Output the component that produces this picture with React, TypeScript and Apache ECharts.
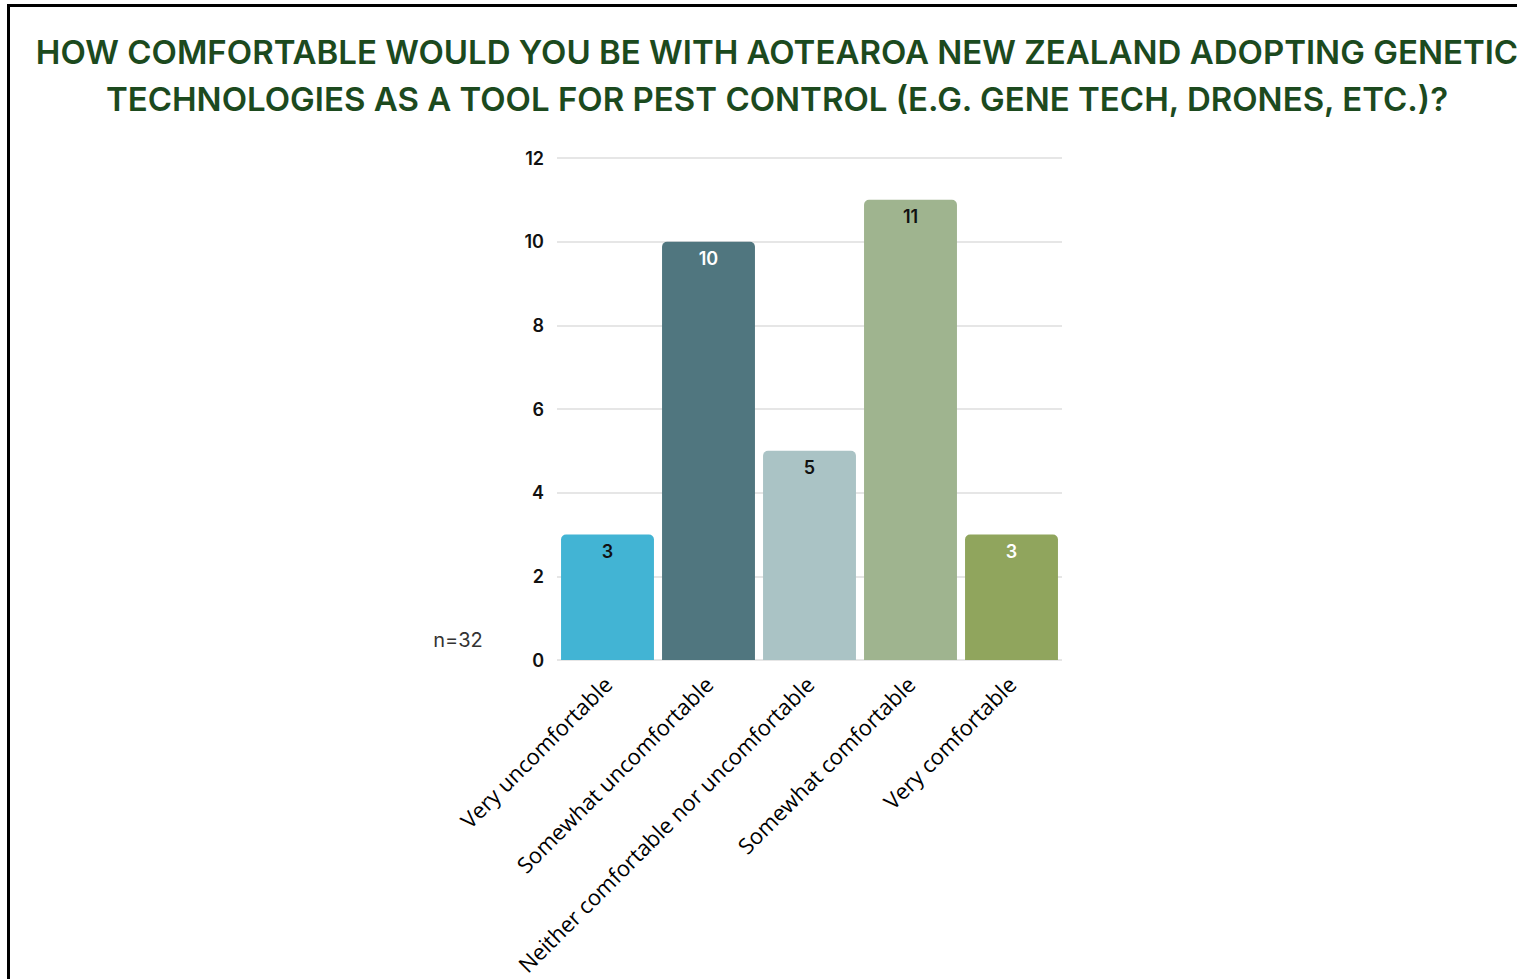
import React, { useEffect, useRef } from "react";
import * as echarts from "echarts";

const categories = [
  "Very uncomfortable",
  "Somewhat uncomfortable",
  "Neither comfortable nor uncomfortable",
  "Somewhat comfortable",
  "Very comfortable",
];
const counts = [3, 10, 5, 11, 3];
const barColors = ["#42b4d4", "#50767f", "#aac3c5", "#9fb48f", "#90a55d"];
const labelColors = ["#111111", "#ffffff", "#111111", "#111111", "#ffffff"];
const titleLines = [
  "HOW COMFORTABLE WOULD YOU BE WITH AOTEAROA NEW ZEALAND ADOPTING GENETIC",
  "TECHNOLOGIES AS A TOOL FOR PEST CONTROL (E.G. GENE TECH, DRONES, ETC.)?",
];
const sampleNote = "n=32";

export default function App() {
  const ref = useRef<HTMLDivElement>(null);
  useEffect(() => {
    if (!ref.current) return;
    const chart = echarts.init(ref.current, null, { renderer: "svg" });
    chart.setOption({
      animation: false,
      backgroundColor: "#ffffff",
      grid: { left: 557, right: 455, top: 158, bottom: 319, containLabel: false },
      xAxis: {
        type: "category",
        data: categories,
        axisLine: { show: false },
        axisTick: { show: false },
        axisLabel: {
          interval: 0,
          rotate: 45,
          margin: 20,
          color: "#000000",
          fontFamily: "Open Sans",
          fontSize: 22,
        },
      },
      yAxis: {
        type: "value",
        min: 0,
        max: 12,
        interval: 2,
        axisLine: { show: false },
        axisTick: { show: false },
        splitLine: { lineStyle: { color: "#e6e6e6", width: 2 } },
        axisLabel: {
          margin: 13,
          color: "#111111",
          fontFamily: "Inter",
          fontWeight: 600,
          fontSize: 18,
        },
      },
      series: [
        {
          type: "bar",
          barCategoryGap: "8%",
          data: counts.map((v, i) => ({
            value: v,
            itemStyle: { color: barColors[i], borderRadius: [5, 5, 0, 0] },
            label: { color: labelColors[i] },
          })),
          label: {
            show: true,
            position: "insideTop",
            distance: 8,
            fontFamily: "Inter",
            fontWeight: 600,
            fontSize: 18,
          },
        },
      ],
      graphic: [
        {
          type: "rect",
          shape: { x: 8.5, y: 5.5, width: 1700, height: 1200 },
          style: { fill: "none", stroke: "#000000", lineWidth: 3 },
          silent: true,
        },
        {
          type: "text",
          x: 777,
          y: 52,
          style: {
            text: titleLines[0],
            textAlign: "center",
            textVerticalAlign: "middle",
            fill: "#1c4a1e",
            font: "600 33px Inter",
          },
        },
        {
          type: "text",
          x: 777,
          y: 99,
          style: {
            text: titleLines[1],
            textAlign: "center",
            textVerticalAlign: "middle",
            fill: "#1c4a1e",
            font: "600 33px Inter",
          },
        },
        {
          type: "text",
          x: 458,
          y: 640,
          style: {
            text: sampleNote,
            textAlign: "center",
            textVerticalAlign: "middle",
            fill: "#333333",
            font: "400 20px Inter",
          },
        },
      ],
    });
    return () => chart.dispose();
  }, []);
  return (
    <div
      ref={ref}
      style={{ position: "fixed", left: 0, top: 0, width: 1517, height: 979 }}
    />
  );
}
